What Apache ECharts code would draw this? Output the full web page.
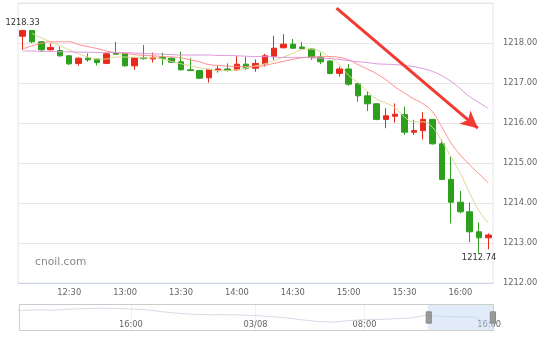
<!DOCTYPE html>
<html><head><meta charset="utf-8">
<script src="https://cdn.jsdelivr.net/npm/echarts@6.0.0/dist/echarts.min.js"></script>
<style>html,body{margin:0;padding:0;background:#fff}#c{width:550px;height:340px}</style>
</head><body><div id="c"></div>
<script>
const times = ['12:05','12:10','12:15','12:20','12:25','12:30','12:35','12:40','12:45','12:50','12:55',
 '13:00','13:05','13:10','13:15','13:20','13:25','13:30','13:35','13:40','13:45','13:50','13:55',
 '14:00','14:05','14:10','14:15','14:20','14:25','14:30','14:35','14:40','14:45','14:50','14:55',
 '15:00','15:05','15:10','15:15','15:20','15:25','15:30','15:35','15:40','15:45','15:50','15:55',
 '16:00','16:05','16:10','16:15'];
const opens = [1218.17,1218.31,1218.03,1217.83,1217.81,1217.68,1217.49,1217.62,1217.60,1217.49,
 1217.74,1217.74,1217.43,1217.63,1217.60,1217.64,1217.62,1217.53,1217.33,1217.31,
 1217.13,1217.31,1217.35,1217.33,1217.47,1217.37,1217.48,1217.67,1217.88,1217.97,
 1217.90,1217.85,1217.64,1217.55,1217.24,1217.35,1216.98,1216.68,1216.48,1216.09,
 1216.17,1216.21,1215.77,1215.81,1216.09,1215.48,1214.59,1214.02,1213.78,1213.28,1213.13];
const closes = [1218.31,1218.03,1217.83,1217.89,1217.68,1217.48,1217.62,1217.58,1217.51,1217.73,
 1217.72,1217.43,1217.63,1217.61,1217.64,1217.61,1217.52,1217.33,1217.31,1217.12,
 1217.34,1217.35,1217.31,1217.47,1217.37,1217.49,1217.68,1217.87,1217.97,1217.87,
 1217.86,1217.64,1217.53,1217.24,1217.35,1216.97,1216.68,1216.48,1216.09,1216.18,
 1216.22,1215.77,1215.81,1216.09,1215.48,1214.59,1214.02,1213.78,1213.28,1213.13,1213.20];
const lows = [1217.83,1218.00,1217.78,1217.81,1217.66,1217.45,1217.43,1217.53,1217.44,1217.47,
 1217.70,1217.41,1217.33,1217.58,1217.51,1217.45,1217.50,1217.31,1217.30,1217.10,
 1217.01,1217.26,1217.29,1217.31,1217.33,1217.28,1217.41,1217.58,1217.87,1217.85,
 1217.85,1217.58,1217.47,1217.22,1217.16,1216.93,1216.53,1216.30,1216.07,1215.87,
 1216.01,1215.70,1215.70,1215.59,1215.46,1214.57,1213.49,1213.74,1213.02,1212.74,1212.84];
const highs = [1218.33,1218.32,1218.05,1217.99,1217.91,1217.70,1217.64,1217.74,1217.61,1217.75,
 1218.03,1217.76,1217.65,1217.95,1217.76,1217.76,1217.64,1217.78,1217.62,1217.33,
 1217.35,1217.43,1217.49,1217.67,1217.66,1217.59,1217.73,1218.18,1218.22,1218.10,
 1218.03,1217.87,1217.76,1217.57,1217.41,1217.47,1217.00,1216.80,1216.50,1216.37,
 1216.49,1216.41,1216.08,1216.27,1216.10,1215.59,1215.16,1214.30,1214.01,1213.51,1213.24];
const ma5 = ['-',1218.24,1218.13,1218.03,1217.93,1217.83,1217.73,1217.65,1217.60,1217.60,
 1217.65,1217.65,1217.64,1217.63,1217.63,1217.60,1217.54,1217.48,1217.43,1217.38,
 1217.34,1217.31,1217.31,1217.33,1217.38,1217.43,1217.48,1217.56,1217.65,1217.74,
 1217.83,1217.85,1217.78,1217.64,1217.46,1217.19,1217.01,1216.79,1216.60,1216.50,
 1216.38,1216.15,1216.03,1216.03,1215.89,1215.55,1215.15,1214.74,1214.25,1213.80,1213.50];
const ma10 = [1217.85,1217.93,1217.99,1218.03,1218.03,1218.03,1217.96,1217.91,1217.86,1217.80,
 1217.76,1217.74,1217.71,1217.69,1217.68,1217.66,1217.65,1217.63,1217.58,1217.53,
 1217.46,1217.44,1217.42,1217.41,1217.41,1217.41,1217.44,1217.49,1217.54,1217.59,
 1217.63,1217.65,1217.66,1217.66,1217.64,1217.58,1217.46,1217.35,1217.23,1217.08,
 1216.90,1216.75,1216.60,1216.48,1216.28,1215.90,1215.50,1215.20,1214.95,1214.73,1214.50];
const ma20 = [1217.80,1217.80,1217.79,1217.79,1217.78,1217.78,1217.77,1217.77,1217.76,1217.76,
 1217.76,1217.76,1217.75,1217.74,1217.73,1217.72,1217.71,1217.70,1217.70,1217.70,
 1217.70,1217.69,1217.69,1217.68,1217.67,1217.66,1217.66,1217.65,1217.64,1217.64,
 1217.64,1217.63,1217.62,1217.61,1217.59,1217.56,1217.53,1217.51,1217.48,1217.47,
 1217.46,1217.44,1217.41,1217.36,1217.29,1217.18,1217.04,1216.85,1216.66,1216.51,1216.36];
const xTickLabels = ['12:30','13:00','13:30','14:00','14:30','15:00','15:30','16:00'];
const yMin = 1212, yMax = 1219, yStep = 1;
// navigator: trading hours since 03/07 00:00 (05:00 break removed)
const navX = [8.75,10,11,12,13,14,15,16,17,18,19,20,21,22,23,24,25,26,27,28,29,30,31,32,33,34,35,36,37,38,39,39.25];
const navY = [1220.5,1221.0,1220.8,1221.3,1221.6,1221.8,1221.7,1221.4,1221.0,1220.0,1219.2,1218.7,1218.4,1218.5,1218.3,1218.0,
 1217.5,1216.8,1215.8,1214.9,1214.6,1215.4,1215.9,1216.0,1216.4,1216.8,1218.2,1217.5,1217.3,1217.3,1214.0,1213.2];
const navTickValues = [16,24,31,39];
const navTickLabels = ['16:00','03/08','08:00','16:00'];
const navMin = 8.75, navMax = 39.25, windowStart = 35, windowEnd = 39.25;
const arrowX = [33.7, 48.87];
const arrowY = [1218.87, 1215.87];
const watermark = 'cnoil.com';

const FONT = 'DejaVu Sans';
const chart = echarts.init(document.getElementById('c'), null, {renderer:'canvas'});
const candles = times.map((t,i)=>[opens[i],closes[i],lows[i],highs[i]]);
const navPairs = navX.map((x,i)=>[x,navY[i]]);
const isTick = (idx, val) => xTickLabels.indexOf(val) >= 0;

chart.setOption({
  animation: false,
  backgroundColor: '#fff',
  title: {text: watermark, left: 35, top: 257, padding: 0, textStyle: {fontFamily: FONT, fontSize: 10.7, fontWeight: 'normal', color: '#888'}},
  grid: [
    {left: 18, right: 57, top: 3, height: 280, show: true, borderColor: '#e6e6e6', borderWidth: 1},
    {left: 18, right: 57, top: 304, height: 27, show: false}
  ],
  xAxis: [
    {type: 'category', gridIndex: 0, data: times, boundaryGap: true,
     axisLine: {lineStyle: {color: '#ccd6eb'}},
     axisTick: {inside: true, length: 6, alignWithLabel: true, interval: isTick, lineStyle: {color: '#ccd6eb'}},
     axisLabel: {interval: isTick, color: '#666', fontFamily: FONT, fontSize: 8.3, margin: 6},
     splitLine: {show: false}},
    {type: 'value', gridIndex: 1, min: navMin, max: navMax,
     axisLine: {show: false},
     axisTick: {show: false, customValues: navTickValues},
     axisLabel: {inside: true, customValues: navTickValues, margin: 2, color: '#666', fontFamily: FONT, fontSize: 8.3,
       formatter: v => navTickLabels[navTickValues.indexOf(v)]},
     splitLine: {show: true, lineStyle: {color: '#f0f0f0'}}},
    {type: 'value', gridIndex: 0, min: -0.5, max: times.length - 0.5, show: false},
    {type: 'value', gridIndex: 1, min: navMin, max: navMax, show: false}
  ],
  yAxis: [
    {type: 'value', gridIndex: 0, position: 'right', min: yMin, max: yMax, interval: yStep,
     axisLine: {show: false}, axisTick: {show: false},
     axisLabel: {showMaxLabel: false, margin: 10, color: '#666', fontFamily: FONT, fontSize: 8.3,
       formatter: v => v.toFixed(2), verticalAlign: 'middle', padding: [0,0,8,0]},
     splitLine: {lineStyle: {color: '#e6e6e6'}}},
    {type: 'value', gridIndex: 1, min: 1210, max: 1224, show: false}
  ],
  dataZoom: [{
    type: 'slider', xAxisIndex: 3, filterMode: 'none', left: 18, right: 57, top: 304, height: 27,
    startValue: windowStart, endValue: windowEnd, showDetail: false, showDataShadow: false,
    brushSelect: false, moveHandleSize: 0, zoomLock: false,
    borderColor: '#cccccc', borderRadius: 0, backgroundColor: 'rgba(0,0,0,0)',
    fillerColor: 'rgba(190,212,242,0.45)',
    handleIcon: 'path://M0,0 L5,0 L5,11 L0,11 Z', handleSize: '42%',
    handleStyle: {color: '#9a9a9a', borderColor: '#8a8a8a', borderWidth: 1},
    dataBackground: {lineStyle: {opacity: 0}, areaStyle: {opacity: 0}},
    selectedDataBackground: {lineStyle: {opacity: 0}, areaStyle: {opacity: 0}}
  }],
  series: [
    {type: 'candlestick', name: 'K', xAxisIndex: 0, yAxisIndex: 0, data: candles, barWidth: 6,
     itemStyle: {color: '#e8291c', color0: '#2c9f1d', borderColor: '#e8291c', borderColor0: '#2c9f1d', borderWidth: 1},
     markPoint: {symbol: 'circle', symbolSize: 0, silent: true,
       label: {color: '#333', fontFamily: FONT, fontSize: 8.3, formatter: p => Number(p.value).toFixed(2)},
       data: [
         {type: 'max', valueDim: 'highest', label: {position: 'top', distance: 3}},
         {type: 'min', valueDim: 'lowest', label: {position: 'bottom', distance: 0}}
       ]}},
    {type: 'line', name: 'MA5', xAxisIndex: 0, yAxisIndex: 0, data: ma5, smooth: true, symbol: 'none',
     lineStyle: {color: '#dcd88e', width: 1}, silent: true},
    {type: 'line', name: 'MA10', xAxisIndex: 0, yAxisIndex: 0, data: ma10, smooth: true, symbol: 'none',
     lineStyle: {color: '#ff8c8c', width: 1}, silent: true},
    {type: 'line', name: 'MA20', xAxisIndex: 0, yAxisIndex: 0, data: ma20, smooth: true, symbol: 'none',
     lineStyle: {color: '#dc96dc', width: 1}, silent: true},
    {type: 'line', name: 'arrow', xAxisIndex: 2, yAxisIndex: 0, data: [], silent: true,
     markLine: {silent: true, symbol: ['none', 'arrow'], symbolSize: [13, 17],
       lineStyle: {color: '#f23a33', width: 3, type: 'solid'}, label: {show: false},
       data: [[{coord: [arrowX[0], arrowY[0]]}, {coord: [arrowX[1], arrowY[1]]}]]}},
    {type: 'line', name: 'nav', xAxisIndex: 1, yAxisIndex: 1, data: navPairs, symbol: 'none', silent: true,
     lineStyle: {color: '#d5dde8', width: 1}},
    {type: 'line', name: 'navZoom', xAxisIndex: 3, yAxisIndex: 1, data: navPairs, symbol: 'none', silent: true,
     lineStyle: {opacity: 0}}
  ]
});
</script></body></html>
